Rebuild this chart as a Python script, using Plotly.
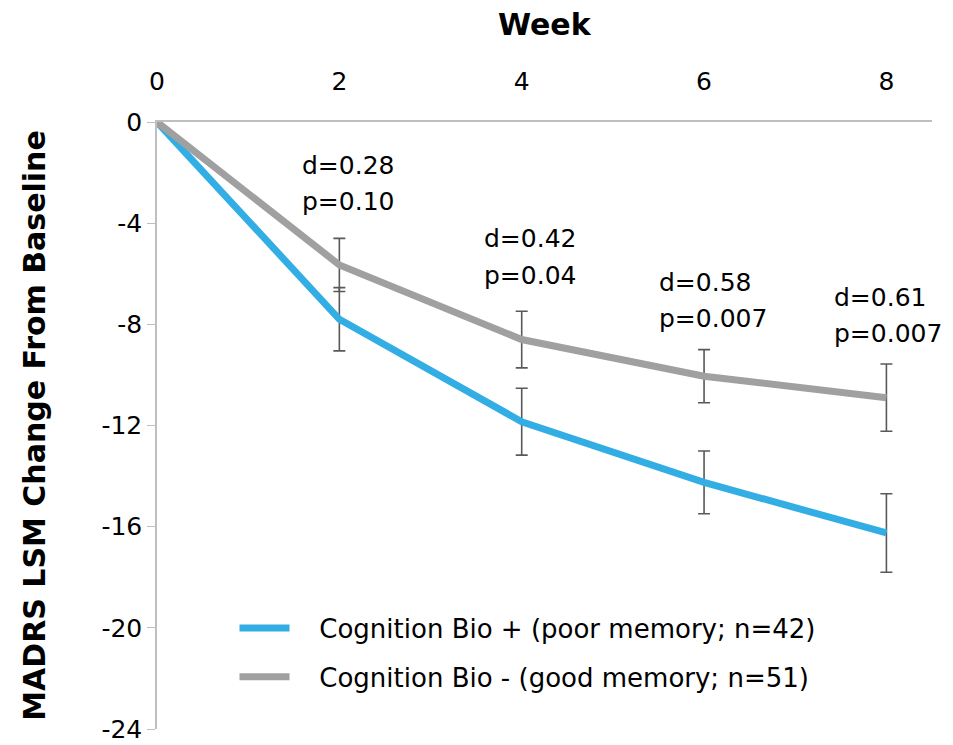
import plotly.graph_objects as go

# Weeks of treatment
weeks = [0, 2, 4, 6, 8]

# MADRS least-squares mean change from baseline
bio_pos_mean = [0, -7.8, -11.85, -14.25, -16.25]
bio_neg_mean = [0, -5.65, -8.6, -10.05, -10.9]

# Standard errors (no bar at baseline)
bio_pos_err = [None, 1.25, 1.32, 1.24, 1.55]
bio_neg_err = [None, 1.05, 1.12, 1.05, 1.33]

# Group labels
group_names = ["Cognition Bio + (poor memory; n=42)",
               "Cognition Bio - (good memory; n=51)"]

# Effect sizes and p-values shown above each follow-up week
d_values = ["0.28", "0.42", "0.58", "0.61"]
p_values = ["0.10", "0.04", "0.007", "0.007"]
label_x = [1.57, 3.56, 5.48, 7.40]
label_y_d = [-1.72, -4.62, -6.35, -6.95]
label_y_p = [-3.15, -6.05, -7.78, -8.38]

y_ticks = [0, -4, -8, -12, -16, -20, -24]
y_tick_text = ["0", "-4", "-8", "-12", "-16", "-20", "-24"]
x_ticks = [0, 2, 4, 6, 8]
x_tick_text = ["0", "2", "4", "6", "8"]

FONT = "DejaVu Sans, Arial, sans-serif"
BLUE = "#33AEE4"
GRAY = "#A0A0A0"
ERR = "#595959"
AXIS = "#BFBFBF"
PAD = "\u00a0" * 3  # gap between legend swatch and its label

fig = go.Figure()

fig.add_trace(go.Scatter(
    x=weeks, y=bio_pos_mean, mode="lines",
    name=PAD + group_names[0],
    line=dict(color=BLUE, width=7),
    error_y=dict(type="data", array=bio_pos_err, color=ERR, thickness=1.6, width=6),
    legendgroup="pos", cliponaxis=False,
))
fig.add_trace(go.Scatter(
    x=weeks, y=bio_neg_mean, mode="lines",
    name=PAD + group_names[1],
    line=dict(color=GRAY, width=7),
    error_y=dict(type="data", array=bio_neg_err, color=ERR, thickness=1.6, width=6),
    legendgroup="neg", cliponaxis=False,
))

for xi, yd, yp, d, p in zip(label_x, label_y_d, label_y_p, d_values, p_values):
    fig.add_annotation(x=xi, y=yd, text=f"d={d}", showarrow=False,
                       xanchor="left", yanchor="middle",
                       font=dict(family=FONT, size=25, color="#000000"))
    fig.add_annotation(x=xi, y=yp, text=f"p={p}", showarrow=False,
                       xanchor="left", yanchor="middle",
                       font=dict(family=FONT, size=25, color="#000000"))

# Top axis title placed above the week tick labels
fig.add_annotation(x=0.5, xref="paper", y=1.16, yref="paper",
                   text="<b>Week</b>", showarrow=False,
                   xanchor="center", yanchor="middle",
                   font=dict(family=FONT, size=30, color="#000000"))

fig.update_layout(
    width=953, height=745,
    margin=dict(l=157, r=21, t=122, b=16),
    paper_bgcolor="white", plot_bgcolor="white",
    font=dict(family=FONT, size=25, color="#000000"),
    showlegend=True,
    legend=dict(
        x=0.1, y=0.205, xanchor="left", yanchor="top",
        bgcolor="rgba(0,0,0,0)", tracegroupgap=12,
        font=dict(family=FONT, size=26, color="#000000"),
        itemwidth=50,
    ),
    xaxis=dict(
        side="top", range=[0, 8.5], tickvals=x_ticks, ticktext=x_tick_text,
        showgrid=False, zeroline=False, automargin=False,
        showline=True, linecolor=AXIS, linewidth=1.5,
        ticks="", tickfont=dict(size=25), ticklabelstandoff=20,
    ),
    yaxis=dict(
        range=[-24, 0], tickvals=y_ticks, ticktext=y_tick_text,
        showgrid=False, zeroline=False, automargin=False,
        showline=True, linecolor=AXIS, linewidth=1.5,
        ticks="outside", ticklen=8, tickcolor=AXIS,
        tickfont=dict(size=25), ticklabeloverflow="allow",
        title=dict(text="<b>MADRS LSM Change From Baseline</b>",
                   font=dict(family=FONT, size=30), standoff=47),
    ),
)

fig.write_html("out.html")
